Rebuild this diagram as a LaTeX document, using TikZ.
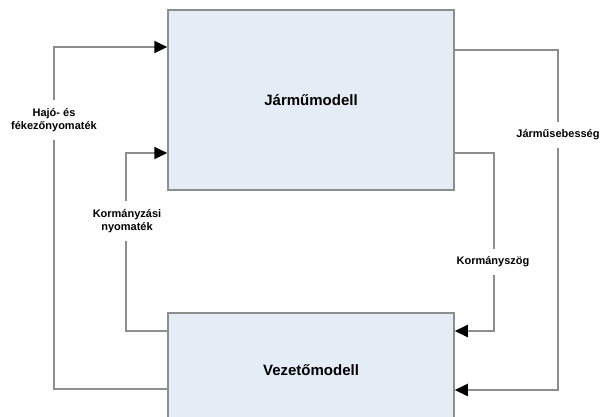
\documentclass[tikz,border=0pt]{standalone}
\usepackage{fontspec}
\setmainfont{Liberation Sans}
\usetikzlibrary{arrows.meta}

\definecolor{boxblue}{HTML}{E4ECF6}
\definecolor{linegray}{HTML}{8E8E8E}

\begin{document}
\begin{tikzpicture}
  [x=1pt,y=-1pt,
   model/.style={draw=linegray,line width=1.5pt,fill=boxblue,minimum width=286pt,font=\bfseries\fontsize{15}{18}\selectfont},
   signal/.style={draw=linegray,line width=2pt,-{Triangle[length=13pt,width=12pt,color=black]}},
   lbl/.style={fill=white,align=center,inner xsep=2pt,inner ysep=8pt,font=\bfseries\fontsize{11}{13}\selectfont}]
  \useasboundingbox (0,0) rectangle (600,416);
  \clip (0,0) rectangle (600,416);
  \node[model,minimum height=180pt] (jarmu) at (311,100) {Járműmodell};
  \node[model,minimum height=114pt] (vezeto) at (311,370) {Vezetőmodell};

  \draw[signal] (vezeto.west |- 0,389) -| (54,47) -- (jarmu.west |- 0,47);
  \draw[signal] (vezeto.west |- 0,331) -| (126,153) -- (jarmu.west |- 0,153);
  \draw[signal] (jarmu.east |- 0,50) -| (558,390) -- (vezeto.east |- 0,390);
  \draw[signal] (jarmu.east |- 0,153) -| (494,331) -- (vezeto.east |- 0,331);

  \node[lbl] (hajo) at (54,120) {Hajó- és\\fékezőnyomaték};
  \node[lbl] (kormanyzasi) at (127,221) {Kormányzási\\nyomaték};
  \node[lbl] (sebesseg) at (558,135) {Járműsebesség};
  \node[lbl] (szog) at (493,262) {Kormányszög};
\end{tikzpicture}
\end{document}
